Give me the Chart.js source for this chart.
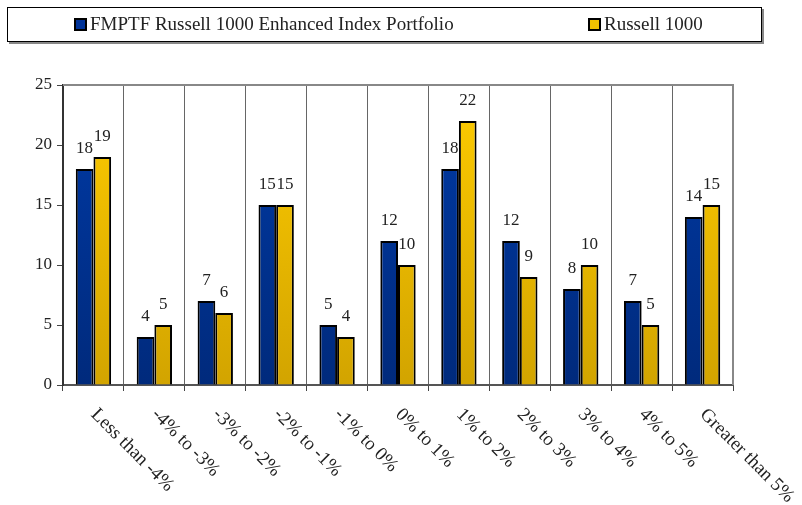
<!DOCTYPE html>
<html>
<head>
<meta charset="utf-8">
<script src="https://cdn.jsdelivr.net/npm/chart.js@4.4.0/dist/chart.umd.min.js"></script>
<style>
  html, body { margin: 0; padding: 0; background: #fff; }
  #wrap { width: 802px; height: 505px; }
</style>
</head>
<body>
<div id="wrap"><canvas id="myChart" width="802" height="505"></canvas></div>
<script>
// categories and values
var categories = ['Less than -4%', '-4% to -3%', '-3% to -2%', '-2% to -1%', '-1% to 0%',
    '0% to 1%', '1% to 2%', '2% to 3%', '3% to 4%', '4% to 5%', 'Greater than 5%'];
var portfolioValues = [18, 4, 7, 15, 5, 12, 18, 12, 8, 7, 14];
var russellValues = [19, 5, 6, 15, 4, 10, 22, 9, 10, 5, 15];
var yTicks = [0, 5, 10, 15, 20, 25];
var seriesNames = ['FMPTF Russell 1000 Enhanced Index Portfolio', 'Russell 1000'];

var FONT = '"Liberation Serif", "DejaVu Serif", serif';
var TEXT = '#222';

function blueFill(context) {
    var chart = context.chart, a = chart.chartArea;
    if (!a) return '#003399';
    var g = chart.ctx.createLinearGradient(0, a.top, 0, a.bottom);
    g.addColorStop(0, '#003aa6');
    g.addColorStop(1, '#002a7c');
    return g;
}

function goldFill(context) {
    var chart = context.chart, a = chart.chartArea;
    if (!a) return '#f0c000';
    var g = chart.ctx.createLinearGradient(0, a.top, 0, a.bottom);
    g.addColorStop(0, '#ffcc00');
    g.addColorStop(1, '#d2a400');
    return g;
}

// boxed legend at the top
var boxLegend = {
    id: 'boxLegend',
    afterDraw: function (chart) {
        var ctx = chart.ctx;
        ctx.save();
        ctx.fillStyle = '#888';
        ctx.fillRect(9, 9, 755, 35);
        ctx.fillStyle = '#fff';
        ctx.fillRect(7, 7, 755, 35);
        ctx.strokeStyle = '#000';
        ctx.lineWidth = 1;
        ctx.strokeRect(7.5, 7.5, 754, 34);

        var items = [{x: 75, fill: '#003399'}, {x: 589, fill: '#f0c000'}];
        ctx.font = '19px ' + FONT;
        ctx.textBaseline = 'middle';
        ctx.textAlign = 'left';
        items.forEach(function (it, i) {
            ctx.fillStyle = it.fill;
            ctx.fillRect(it.x, 19, 11, 11);
            ctx.strokeStyle = '#000';
            ctx.lineWidth = 2;
            ctx.strokeRect(it.x, 19, 11, 11);
            ctx.fillStyle = TEXT;
            ctx.fillText(chart.data.datasets[i].label, it.x + 15, 25);
        });
        ctx.restore();
    }
};

// grey frame of the plot area
var plotFrame = {
    id: 'plotFrame',
    beforeDatasetsDraw: function (chart) {
        var a = chart.chartArea, ctx = chart.ctx;
        ctx.save();
        ctx.strokeStyle = '#888';
        ctx.lineWidth = 2;
        ctx.beginPath();
        ctx.moveTo(a.left, a.top);
        ctx.lineTo(a.right, a.top);
        ctx.lineTo(a.right, a.bottom);
        ctx.stroke();
        ctx.restore();
    }
};

// numbers above the bars
var valueLabels = {
    id: 'valueLabels',
    afterDatasetsDraw: function (chart) {
        var ctx = chart.ctx;
        ctx.save();
        ctx.font = '17px ' + FONT;
        ctx.fillStyle = TEXT;
        ctx.textAlign = 'center';
        ctx.textBaseline = 'middle';
        chart.data.datasets.forEach(function (ds, i) {
            chart.getDatasetMeta(i).data.forEach(function (bar, j) {
                ctx.fillText(String(ds.data[j]), bar.x, bar.y - 20);
            });
        });
        ctx.restore();
    }
};

// slanted category labels, running down to the right
var slantLabels = {
    id: 'slantLabels',
    afterDraw: function (chart) {
        var ctx = chart.ctx, x = chart.scales.x, a = chart.chartArea;
        ctx.save();
        ctx.font = '19px ' + FONT;
        ctx.fillStyle = TEXT;
        ctx.textAlign = 'left';
        ctx.textBaseline = 'top';
        chart.data.labels.forEach(function (lbl, i) {
            var px = x.getPixelForValue(i);
            ctx.save();
            ctx.translate(px + 7, a.bottom + 20);
            ctx.rotate(Math.PI / 4);
            ctx.fillText(lbl, 0, 0);
            ctx.restore();
        });
        ctx.restore();
    }
};

var ctx = document.getElementById('myChart').getContext('2d');

var myBarChart = new Chart(ctx, {
    type: 'bar',
    data: {
        labels: categories,
        datasets: [{
            label: seriesNames[0],
            data: portfolioValues,
            backgroundColor: blueFill,
            borderColor: '#000',
            borderWidth: 2,
            borderSkipped: 'bottom',
            categoryPercentage: 0.58,
            barPercentage: 1.0
        }, {
            label: seriesNames[1],
            data: russellValues,
            backgroundColor: goldFill,
            borderColor: '#000',
            borderWidth: 2,
            borderSkipped: 'bottom',
            categoryPercentage: 0.58,
            barPercentage: 1.0
        }]
    },
    options: {
        responsive: false,
        animation: false,
        layout: {padding: {top: 85, right: 69, bottom: 0, left: 0}},
        plugins: {
            legend: {display: false},
            tooltip: {enabled: false}
        },
        scales: {
            x: {
                offset: true,
                grid: {
                    offset: true,
                    color: '#666',
                    lineWidth: 1,
                    tickLength: 6,
                    tickColor: '#444'
                },
                border: {color: '#555', width: 2},
                ticks: {display: false},
                afterFit: function (scale) { scale.height = 120; }
            },
            y: {
                min: 0,
                max: 25,
                afterBuildTicks: function (scale) {
                    scale.ticks = yTicks.map(function (v) { return {value: v}; });
                },
                grid: {
                    drawOnChartArea: false,
                    tickLength: 6,
                    tickColor: '#444'
                },
                border: {color: '#333', width: 2},
                ticks: {
                    padding: 5,
                    color: TEXT,
                    font: {family: FONT, size: 17}
                },
                afterFit: function (scale) { scale.width = 63; }
            }
        }
    },
    plugins: [plotFrame, valueLabels, slantLabels, boxLegend]
});
</script>
</body>
</html>
